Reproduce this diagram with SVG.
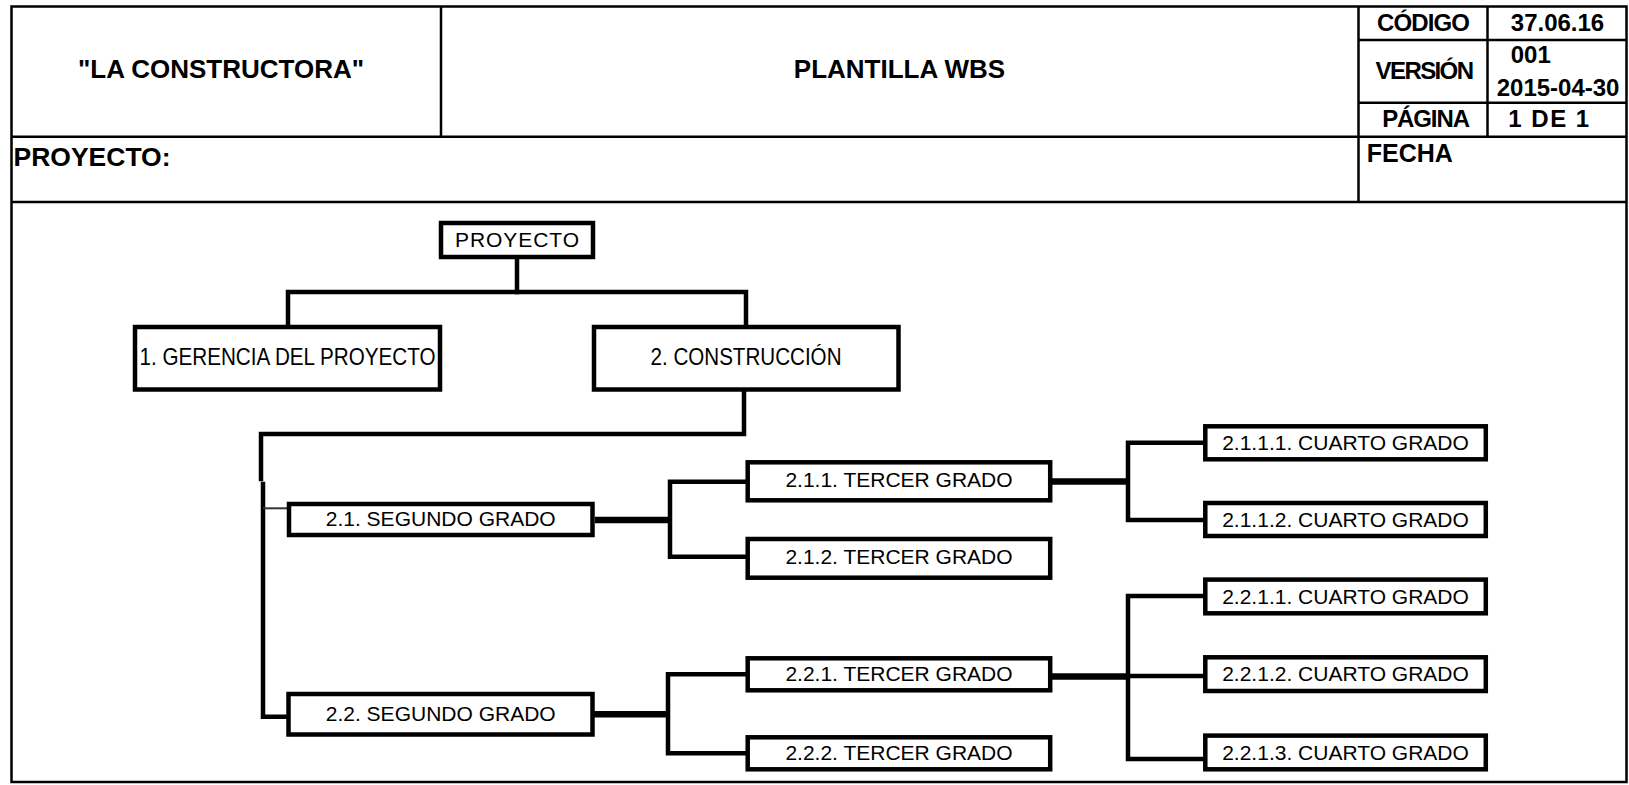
<svg xmlns="http://www.w3.org/2000/svg" width="1629" height="785" viewBox="0 0 1629 785">
  <style>
    .frame { fill: none; stroke: #000; stroke-width: 2.5; }
    .grid { stroke: #000; stroke-width: 2.5; fill: none; }
    .hdr { font-family: "Liberation Sans", Arial, sans-serif; font-weight: bold; fill: #000; }
    .box { fill: #fff; stroke: #000; stroke-width: 4.5; }
    .lbl { font-family: "Liberation Sans", Arial, sans-serif; font-size: 21px; fill: #000; text-anchor: middle; }
    .lbl-big { font-size: 24px; }
    .wire { fill: none; stroke: #000; stroke-width: 4.5; stroke-linejoin: miter; stroke-linecap: square; }
    .wire-heavy { fill: none; stroke: #000; stroke-width: 6.5; }
    .wire-thin { fill: none; stroke: #333; stroke-width: 2; }
  </style>

  <rect width="1629" height="785" fill="#fff"/>

  <!-- Title block -->
  <g id="title-block">
    <rect class="frame" x="11.5" y="6.5" width="1615" height="775.5"/>
    <line class="grid" x1="11.5" y1="136.7" x2="1626.5" y2="136.7"/>
    <line class="grid" x1="11.5" y1="202" x2="1626.5" y2="202"/>
    <line class="grid" x1="441" y1="6.5" x2="441" y2="136.7"/>
    <line class="grid" x1="1358.5" y1="6.5" x2="1358.5" y2="202"/>
    <line class="grid" x1="1487.5" y1="6.5" x2="1487.5" y2="136.7"/>
    <line class="grid" x1="1358.5" y1="40" x2="1626.5" y2="40"/>
    <line class="grid" x1="1358.5" y1="102.7" x2="1626.5" y2="102.7"/>

    <text class="hdr" x="221" y="78" font-size="26" text-anchor="middle">"LA CONSTRUCTORA"</text>
    <text class="hdr" x="899.5" y="78" font-size="26" text-anchor="middle">PLANTILLA WBS</text>
    <text class="hdr" x="1423" y="30.7" font-size="24" text-anchor="middle" letter-spacing="-0.9">CÓDIGO</text>
    <text class="hdr" x="1557.5" y="30.7" font-size="24" text-anchor="middle">37.06.16</text>
    <text class="hdr" x="1424" y="79" font-size="24" text-anchor="middle" letter-spacing="-1.6">VERSIÓN</text>
    <text class="hdr" x="1510.7" y="63.3" font-size="24">001</text>
    <text class="hdr" x="1496.7" y="96" font-size="24">2015-04-30</text>
    <text class="hdr" x="1425.5" y="127.3" font-size="24" text-anchor="middle" letter-spacing="-1.1">PÁGINA</text>
    <text class="hdr" x="1549.5" y="127.3" font-size="24" text-anchor="middle" letter-spacing="1.5">1 DE 1</text>
    <text class="hdr" x="13.5" y="165.5" font-size="26.5">PROYECTO:</text>
    <text class="hdr" x="1366.7" y="162.3" font-size="25">FECHA</text>
  </g>

  <!-- Connectors -->
  <g id="connectors">
    <!-- root to level 1 -->
    <path class="wire" d="M517,259 V292"/>
    <path class="wire" d="M288,325 V292 H746 V325"/>
    <!-- construction to level 2 -->
    <path class="wire" d="M744,391.7 V434 H261 V479"/>
    <path class="wire" d="M263,484 V716.7 H287"/>
    <path class="wire-thin" d="M263,508.3 H287"/>
    <!-- 2.1 branch -->
    <path class="wire-heavy" d="M595,520 H670"/>
    <path class="wire" d="M746,481.7 H670 V556.7 H746"/>
    <path class="wire-heavy" d="M1052,481.5 H1128"/>
    <path class="wire" d="M1203,442.7 H1128 V520 H1203"/>
    <!-- 2.2 branch -->
    <path class="wire-heavy" d="M589,714.3 H668"/>
    <path class="wire" d="M746,674.3 H668 V753.3 H746"/>
    <path class="wire-heavy" d="M1052,676.5 H1128"/>
    <path class="wire" d="M1203,596 H1128 V759 H1203"/>
    <path class="wire" d="M1128,676 H1203"/>
  </g>

  <!-- Nodes -->
  <g id="n-root">
    <rect class="box" x="441" y="223" width="152" height="34"/>
    <text class="lbl" x="517" y="247" textLength="124" lengthAdjust="spacing">PROYECTO</text>
  </g>
  <g id="n-1">
    <rect class="box" x="135" y="327" width="305" height="62.5"/>
    <text class="lbl lbl-big" x="287.5" y="365" textLength="296" lengthAdjust="spacingAndGlyphs">1. GERENCIA DEL PROYECTO</text>
  </g>
  <g id="n-2">
    <rect class="box" x="594" y="327" width="304.5" height="62.5"/>
    <text class="lbl lbl-big" x="746" y="365" textLength="191" lengthAdjust="spacingAndGlyphs">2. CONSTRUCCIÓN</text>
  </g>
  <g id="n-2-1">
    <rect class="box" x="289" y="504" width="303.5" height="31"/>
    <text class="lbl" x="440.7" y="526">2.1. SEGUNDO GRADO</text>
  </g>
  <g id="n-2-2">
    <rect class="box" x="288.5" y="694" width="304" height="40.5"/>
    <text class="lbl" x="440.7" y="721">2.2. SEGUNDO GRADO</text>
  </g>
  <g id="n-2-1-1">
    <rect class="box" x="747.7" y="462.3" width="302.5" height="38"/>
    <text class="lbl" x="899" y="487">2.1.1. TERCER GRADO</text>
  </g>
  <g id="n-2-1-2">
    <rect class="box" x="747.7" y="539" width="302.5" height="38.7"/>
    <text class="lbl" x="899" y="564">2.1.2. TERCER GRADO</text>
  </g>
  <g id="n-2-2-1">
    <rect class="box" x="747.7" y="658.3" width="302.5" height="32"/>
    <text class="lbl" x="899" y="681">2.2.1. TERCER GRADO</text>
  </g>
  <g id="n-2-2-2">
    <rect class="box" x="747.7" y="737.3" width="302.5" height="32"/>
    <text class="lbl" x="899" y="759.5">2.2.2. TERCER GRADO</text>
  </g>
  <g id="n-2-1-1-1">
    <rect class="box" x="1205.3" y="426.3" width="280.5" height="33"/>
    <text class="lbl" x="1345.5" y="450">2.1.1.1. CUARTO GRADO</text>
  </g>
  <g id="n-2-1-1-2">
    <rect class="box" x="1205.3" y="503" width="280.5" height="33"/>
    <text class="lbl" x="1345.5" y="526.5">2.1.1.2. CUARTO GRADO</text>
  </g>
  <g id="n-2-2-1-1">
    <rect class="box" x="1205.3" y="579.6" width="280.5" height="33.7"/>
    <text class="lbl" x="1345.5" y="604">2.2.1.1. CUARTO GRADO</text>
  </g>
  <g id="n-2-2-1-2">
    <rect class="box" x="1205.3" y="657.3" width="280.5" height="33.7"/>
    <text class="lbl" x="1345.5" y="681">2.2.1.2. CUARTO GRADO</text>
  </g>
  <g id="n-2-2-1-3">
    <rect class="box" x="1205.3" y="735.6" width="280.5" height="33.7"/>
    <text class="lbl" x="1345.5" y="759.5">2.2.1.3. CUARTO GRADO</text>
  </g>
</svg>
